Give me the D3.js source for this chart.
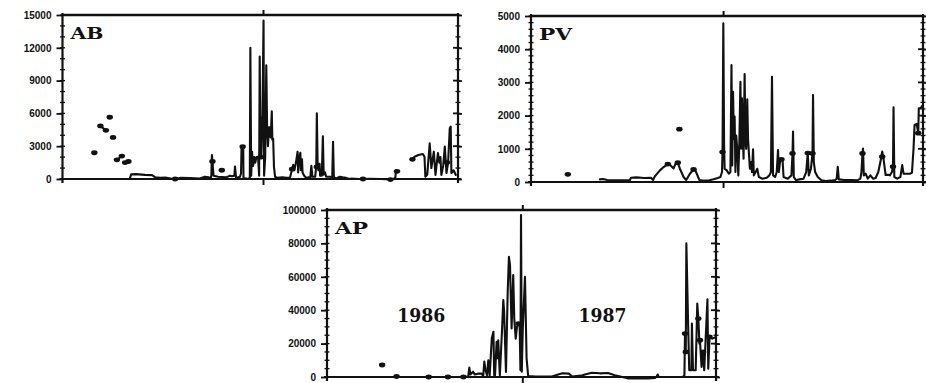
<!DOCTYPE html>
<html><head><meta charset="utf-8">
<script src="https://cdn.jsdelivr.net/npm/d3@7/dist/d3.min.js"></script>
<style>
html,body{margin:0;padding:0;background:#fff;}
svg{display:block;}
</style></head>
<body><svg id="c" width="926" height="383"></svg>
<script>
// ---------- DATA (x = day from start of 1986, y = value) ----------
const panelNames = ["AB", "PV", "AP"];
const yearLabels = ["1986", "1987"];

const abTicks = [0, 3000, 6000, 9000, 12000, 15000];
const pvTicks = [0, 1000, 2000, 3000, 4000, 5000];
const apTicks = [0, 20000, 40000, 60000, 80000, 100000];

const abSeries = [
 [58,2400], null,
 [69,4850],[79,4450], null,
 [86,5650], null,
 [92,3800], null,
 [99,1750],[108,2100], null,
 [114,1500],[120,1600], null,
 [123,100],[125,420],[134,450],[150,380],[163,350],[169,150],[178,100],[187,130],[199,30],[205,0],[214,100],[232,80],[250,50],[259,200],[266,150],[270,100],[271,300],[272,2200],[273,1600],[275,300],[283,200],[298,150],[305,300],[308,250],[313,300],[314,1150],[316,100],[323,200],[325,500],[326,2950],[329,2950],[329.5,100],[334,50],[338,0],[341,100],[342,12000],[343.5,300],[345,2500],[347,1200],[349,2000],[351,1500],[353,2000],[356,2000],[358,300],[359,11200],[360.5,2000],[362,2100],[364,5500],[366,14500],[367,300],[369,2000],[371,10400],[372.5,4700],[374,3000],[376,4600],[378,4700],[379,3800],[381,6200],[382,3600],[383.5,3700],[385,1100],[387,200],[392,100],[400,150],[408,100],[414,100],[418,900],[420,1300],[422,800],[425,1500],[428,2500],[429,600],[431,2000],[433,2400],[434,800],[436,1800],[437,600],[440,300],[444,100],[448,150],[451,100],[453,1200],[455,200],[460,200],[462,1200],[463,6000],[464.5,1300],[466,800],[468,1400],[469,300],[472,300],[474,3900],[475.5,400],[478,600],[480,200],[488,200],[491,100],[492.5,3400],[494,200],[497,50],[500,100],[505,200],[510,150],[516,100],[520,50],[525,30],[540,0],[547,0],[560,20],[580,0],[597,-50],[603,0],[606,150],[607,800],[609,700], null,
 [637,1800],[641,2040],[648,2200],[656,2290],[659,2040],[660.6,210],[664,400],[668.5,3270],[671.5,1000],[676,2500],[679,370],[683.5,2380],[686,1500],[688,2010],[689.7,370],[693,1200],[696,2960],[699,550],[702,1500],[705,4640],[706.7,4790],[708,550],[712,800],[716,370]
];
const abMarks = [[58,2400],[69,4850],[79,4450],[86,5650],[92,3800],[99,1750],[108,2100],[114,1500],[120,1600],[205,0],[273,1600],[290,800],[328,2950],[364,5500],[360.5,2000],[376,4600],[418,900],[463,1100],[547,0],[597,-50],[609,700],[637,1800],[700,1500]];

const pvSeries = [
 [131,80],[137,90],[145,60],[170,50],[188,60],[190,130],[200,140],[215,120],[228,130],[232,60],[235,160],[245,350],[252,450],[260,540],[264,520],[271,410],[275,560],[279,580],[283,400],[290,150],[295,60],[302,250],[309,380],[313,330],[320,60],[330,40],[339,50],[347,80],[355,120],[360,150],[363,300],[364,900],[365.5,4780],[367,1100],[368,400],[372,350],[376,250],[379,300],[381,3520],[382.5,500],[384,2720],[385.5,1300],[387,1970],[388.5,300],[390,1400],[392,1000],[394,200],[396,1200],[398,3020],[399.5,1000],[401,2520],[402.5,1400],[404,700],[406,3250],[407.5,1200],[409,1000],[411,2490],[412.5,1300],[414,900],[416,400],[418,600],[420,300],[422,985],[423.5,200],[427,300],[430,400],[433,150],[440,100],[448,130],[453,200],[456,300],[458,3170],[460,200],[464,150],[467,300],[469.5,960],[471,300],[474,700],[478,680],[480,150],[488,100],[495,200],[497,860],[498,1520],[499.5,150],[504,50],[510,80],[518,100],[523,300],[526,870],[528,200],[532,400],[535,860],[536,2620],[537.5,600],[540,300],[545,150],[552,50],[560,30],[570,40],[578,60],[581,100],[583,460],[585,80],[595,60],[610,60],[620,50],[626,100],[628,300],[630,860],[631,1010],[632.5,200],[636,250],[640,100],[645,200],[650,100],[655,120],[660,300],[664,600],[667.5,915],[670,700],[674,210],[678,220],[682,200],[686,300],[688,460],[689,2250],[690.5,150],[696,100],[702,150],[705.5,510],[708,250],[714,250],[720,250],[724,280],[727,1000],[729,1720],[733,1750],[736,1470],[737,2220],[740,2220],[744,2300]
];
const pvMarks = [[70,230],[282,1590],[260,540],[279,580],[309,380],[364,900],[476,680],[497,860],[526,870],[535,860],[630,860],[667.5,760],[688,460],[736,1470]];

const apSeries = [
 [186,0],[194,0], null,
 [261,0],[264,500],[266,5600],[268,1500],[273,3200],[276,1500],[282,2000],[289,2000],[292,500],[294,9200],[296,4500],[299,1000],[301.5,10000],[304,800],[308,23200],[311,27100],[312.5,1000],[314,1000],[317,21100],[318.5,12000],[320,22000],[323,1000],[326.5,24100],[329.5,46100],[331,39100],[334.5,3000],[337.7,51100],[340,72000],[342,67000],[345,29000],[348,61000],[350,35000],[352.7,23000],[355,30000],[358,32000],[360,31000],[361.5,4000],[362.6,97000],[364,3200],[366,30000],[370,60000],[373,11200],[376,500],[390,200],[420,300],[432,1500],[440,2200],[452,2000],[458,300],[475,800],[482,1500],[495,2500],[510,2200],[525,2400],[538,1000],[548,300],[562,-800],[580,-900],[600,-800],[613,-500],[616,200],[618,1500],[620,100],[640,0],[665,0],[668,1000],[669,26000],[670.5,15000],[671.6,80000],[673,60000],[675,30000],[677,4000],[681,4000],[682,32000],[684,4000],[689,4000],[691,30000],[692,44000],[694,35000],[696,20000],[697,22000],[700,6000],[703,15000],[705,4000],[711,46600],[712.5,5000],[715,24000],[720,23000],[727,24000]
];
const apMarks = [[103,7190],[130,300],[226,0],[255,0],[190,0],[318.5,12000],[358,32000],[669,26000],[670.5,15000],[694,35000],[697,22000],[703,15000],[715,24000]];

// ---------- LAYOUT ----------
const panels = [
  {name: panelNames[0], series: abSeries, marks: abMarks, ticks: abTicks, minor: 1000, xMax: 720,
   box: {l: 62.5, r: 458, t: 15, b: 179}},
  {name: panelNames[1], series: pvSeries, marks: pvMarks, ticks: pvTicks, minor: 200, xMax: 745,
   box: {l: 531, r: 923, t: 16, b: 182}},
  {name: panelNames[2], series: apSeries, marks: apMarks, ticks: apTicks, minor: 5000, xMax: 727,
   box: {l: 327, r: 716, t: 210, b: 377}, years: true}
];

const svg = d3.select("#c");
const INK = "#111";

panels.forEach(p => {
  const B = p.box;
  const yMax = p.ticks[p.ticks.length - 1];
  const x = d3.scaleLinear().domain([0, p.xMax]).range([B.l, B.r]);
  const y = d3.scaleLinear().domain([0, yMax]).range([B.b, B.t]);
  const g = svg.append("g");

  // minor ticks (cross both sides) on left and right axes
  const minorVals = d3.range(0, yMax + 1e-9, p.minor);
  [B.l, B.r].forEach(ax => {
    g.selectAll(null).data(minorVals).join("line")
      .attr("x1", ax - 2.5).attr("x2", ax + 2.5)
      .attr("y1", d => y(d)).attr("y2", d => y(d))
      .attr("stroke", INK).attr("stroke-width", 1.3);
  });

  // left axis with labels
  const la = g.append("g").attr("transform", `translate(${B.l},0)`)
    .call(d3.axisLeft(y).tickValues(p.ticks).tickSize(6).tickPadding(5).tickFormat(d3.format("d")));
  la.select(".domain").remove();
  la.selectAll("line").attr("stroke", INK).attr("stroke-width", 1.8);
  la.selectAll("text").attr("font-family", "Liberation Sans, Arial, sans-serif")
    .attr("font-weight", "bold").attr("font-size", 10).attr("fill", INK);

  // right axis major ticks
  const ra = g.append("g").attr("transform", `translate(${B.r},0)`)
    .call(d3.axisRight(y).tickValues(p.ticks).tickSize(4).tickFormat(""));
  ra.select(".domain").remove();
  ra.selectAll("line").attr("stroke", INK).attr("stroke-width", 1.8);
  g.selectAll(null).data(p.ticks).join("line")
    .attr("x1", B.r - 5).attr("x2", B.r).attr("y1", d => y(d)).attr("y2", d => y(d))
    .attr("stroke", INK).attr("stroke-width", 1.8);

  // x: year boundary tick at top and bottom
  const yearTick = [365];
  const bx = g.append("g").attr("transform", `translate(0,${B.b})`)
    .call(d3.axisBottom(x).tickValues(yearTick).tickSize(6).tickFormat(""));
  bx.select(".domain").remove();
  bx.selectAll("line").attr("stroke", INK).attr("stroke-width", 2);
  const tx = g.append("g").attr("transform", `translate(0,${B.t})`)
    .call(d3.axisTop(x).tickValues(yearTick).tickSize(5).tickFormat(""));
  tx.select(".domain").remove();
  tx.selectAll("line").attr("stroke", INK).attr("stroke-width", 2);

  // frame (slightly overshooting corners like the original)
  g.append("line").attr("x1", B.l - 3).attr("x2", B.r + 3).attr("y1", B.b).attr("y2", B.b)
    .attr("stroke", INK).attr("stroke-width", 2.2);
  g.append("line").attr("x1", B.l - 1).attr("x2", B.r + 1).attr("y1", B.t).attr("y2", B.t)
    .attr("stroke", INK).attr("stroke-width", 2.6);
  g.append("line").attr("x1", B.l).attr("x2", B.l).attr("y1", B.t - 2).attr("y2", B.b + 4)
    .attr("stroke", INK).attr("stroke-width", 2.2);
  g.append("line").attr("x1", B.r).attr("x2", B.r).attr("y1", B.t - 2).attr("y2", B.b + 4)
    .attr("stroke", INK).attr("stroke-width", 2.2);

  // data line
  const line = d3.line().defined(d => d !== null)
    .x(d => x(d[0])).y(d => y(d[1]));
  g.append("path").datum(p.series).attr("d", line)
    .attr("fill", "none").attr("stroke", INK).attr("stroke-width", 2.1)
    .attr("stroke-linejoin", "round").attr("stroke-linecap", "round");

  // sample markers
  g.selectAll(null).data(p.marks).join("ellipse")
    .attr("cx", d => x(d[0])).attr("cy", d => y(d[1]))
    .attr("rx", 3.2).attr("ry", 2.4).attr("fill", INK);

  // panel label
  g.append("text").attr("x", B.l + 8).attr("y", B.t + 24)
    .attr("font-family", "DejaVu Serif, serif").attr("font-weight", "bold")
    .attr("font-size", 17).attr("textLength", 33).attr("lengthAdjust", "spacingAndGlyphs")
    .attr("fill", INK).text(p.name);

  if (p.years) {
    const yearPos = [176, 515];
    yearLabels.forEach((t, i) => {
      g.append("text").attr("x", x(yearPos[i])).attr("y", y(33000))
        .attr("text-anchor", "middle")
        .attr("font-family", "DejaVu Serif, serif").attr("font-weight", "bold")
        .attr("font-size", 18).attr("textLength", 48).attr("lengthAdjust", "spacingAndGlyphs")
        .attr("fill", INK).text(t);
    });
  }
});
</script></body></html>
